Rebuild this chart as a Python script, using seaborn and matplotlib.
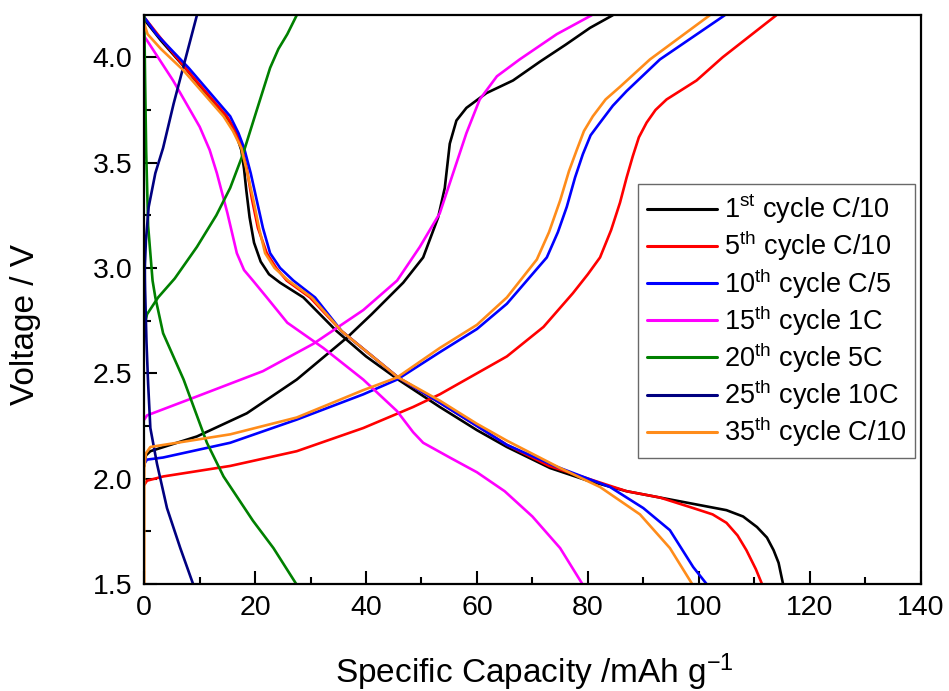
import numpy as np
import pandas as pd
import matplotlib
matplotlib.use("Agg")
import matplotlib.pyplot as plt
import seaborn as sns
from matplotlib.ticker import MultipleLocator

# ---------------- data (capacity mAh/g, voltage V) ----------------
series_names = ["1$^{st}$ cycle C/10", "5$^{th}$ cycle C/10", "10$^{th}$ cycle C/5",
                "15$^{th}$ cycle 1C", "20$^{th}$ cycle 5C", "25$^{th}$ cycle 10C",
                "35$^{th}$ cycle C/10"]
colors = ["#000000", "#FF0000", "#0000FF", "#FF00FF", "#008000", "#000080", "#FF8C1A"]

# 1st cycle C/10
c1_dis_q = [0, 3, 7.7, 12, 15, 16.5, 17.5, 18.0, 18.4, 19.0, 19.8, 21, 22.5, 24.5, 28.7, 34.7, 40, 45.8, 53.3, 60, 65.4, 73.2, 80, 87, 93, 99, 105, 108, 110.5, 112.3, 113.5, 114.4, 115.2]
c1_dis_v = [4.18, 4.08, 3.94, 3.80, 3.71, 3.64, 3.56, 3.47, 3.37, 3.24, 3.12, 3.03, 2.97, 2.93, 2.86, 2.70, 2.58, 2.47, 2.34, 2.23, 2.15, 2.05, 1.99, 1.94, 1.91, 1.88, 1.85, 1.82, 1.77, 1.72, 1.66, 1.60, 1.50]
c1_chg_q = [0, 0.3, 1.1, 9.5, 18.5, 27.5, 36.6, 41, 46.7, 50.3, 53, 54.2, 55.1, 56.3, 58.1, 61.7, 66.5, 71.4, 76, 80.4, 84.5]
c1_chg_v = [2.06, 2.11, 2.13, 2.20, 2.31, 2.47, 2.67, 2.78, 2.93, 3.05, 3.24, 3.38, 3.59, 3.70, 3.76, 3.83, 3.89, 3.98, 4.06, 4.14, 4.20]

# 5th cycle C/10
c5_dis_q = [0, 3, 7.7, 14.9, 16.5, 17.6, 18.5, 19.4, 20.5, 22.1, 23.8, 25.7, 29.9, 35.6, 45.8, 53.3, 60, 65.4, 73, 80, 87, 93, 99, 102.5, 105, 107, 108.6, 110.3, 111.4]
c5_dis_v = [4.19, 4.09, 3.94, 3.72, 3.65, 3.57, 3.47, 3.33, 3.19, 3.07, 3.00, 2.94, 2.86, 2.70, 2.48, 2.36, 2.25, 2.16, 2.06, 2.00, 1.94, 1.91, 1.86, 1.83, 1.79, 1.73, 1.66, 1.57, 1.50]
c5_chg_q = [0, 0.5, 3.4, 15.5, 27.5, 39.5, 48.5, 53.3, 65.4, 72, 77.3, 80, 82.2, 84.2, 85.8, 87, 88.1, 89.2, 90.6, 92.2, 94.2, 99.6, 104.3, 114]
c5_chg_v = [1.97, 1.99, 2.01, 2.06, 2.13, 2.24, 2.34, 2.40, 2.58, 2.72, 2.88, 2.97, 3.05, 3.18, 3.31, 3.43, 3.53, 3.62, 3.69, 3.75, 3.80, 3.89, 4.00, 4.20]

# 10th cycle C/5
c10_dis_q = [0, 2.2, 8, 15.5, 17, 18, 19.2, 20.3, 21.4, 22.7, 24.5, 26.9, 30.8, 35.6, 45.8, 53.3, 60, 65.4, 74, 84, 90, 94.8, 99, 101.4]
c10_dis_v = [4.19, 4.11, 3.95, 3.72, 3.64, 3.57, 3.45, 3.32, 3.19, 3.07, 3.00, 2.94, 2.86, 2.70, 2.48, 2.36, 2.25, 2.16, 2.06, 1.96, 1.86, 1.755, 1.58, 1.50]
c10_chg_q = [0, 0.5, 3.4, 15.5, 27.5, 39.5, 45.6, 53.3, 60, 65.4, 72.6, 74.6, 76.2, 77.7, 79.1, 80.5, 82.2, 84.5, 87, 93, 104.7]
c10_chg_v = [2.07, 2.09, 2.10, 2.17, 2.28, 2.40, 2.47, 2.60, 2.71, 2.83, 3.05, 3.17, 3.29, 3.43, 3.54, 3.63, 3.69, 3.77, 3.84, 3.99, 4.20]

# 15th cycle 1C
c15_dis_q = [0, 1, 5.2, 10, 11.8, 13.1, 14.1, 15, 16.7, 18, 19.6, 22.1, 25.8, 32.3, 39.5, 45.6, 48.5, 50.3, 55.1, 60, 65, 70, 75, 79]
c15_dis_v = [4.10, 4.06, 3.89, 3.67, 3.56, 3.45, 3.35, 3.26, 3.07, 2.99, 2.94, 2.86, 2.74, 2.62, 2.47, 2.32, 2.22, 2.17, 2.10, 2.03, 1.94, 1.82, 1.67, 1.50]
c15_chg_q = [0, 0.5, 9.5, 21.4, 30.5, 39.5, 45.6, 49.7, 53.3, 55.7, 58.1, 60.5, 63.6, 67.7, 74.4, 80.7]
c15_chg_v = [2.28, 2.30, 2.39, 2.51, 2.64, 2.80, 2.94, 3.10, 3.26, 3.45, 3.64, 3.80, 3.91, 3.99, 4.11, 4.20]

# 20th cycle 5C
c20_dis_q = [0, 0.15, 0.35, 0.7, 1.5, 2, 3.4, 7.1, 11.3, 14.3, 19.6, 23.3, 27.4]
c20_dis_v = [4.20, 3.90, 3.55, 3.20, 2.94, 2.86, 2.69, 2.47, 2.17, 2.01, 1.80, 1.67, 1.50]
c20_chg_q = [0, 0.5, 2.5, 5.5, 9.5, 13, 15.5, 17.8, 20.3, 22.7, 24.2, 25.8, 27.5]
c20_chg_v = [2.72, 2.78, 2.86, 2.95, 3.10, 3.25, 3.38, 3.54, 3.75, 3.95, 4.04, 4.11, 4.20]

# 25th cycle 10C
c25_dis_q = [0, 0.15, 0.4, 0.7, 1.1, 2.3, 4.1, 6.5, 8.8]
c25_dis_v = [3.15, 2.90, 2.65, 2.45, 2.24, 2.07, 1.86, 1.67, 1.50]
c25_chg_q = [0, 0.1, 0.3, 0.8, 2, 3.4, 5.3, 7, 8.3, 9.5]
c25_chg_v = [2.75, 3.00, 3.13, 3.29, 3.45, 3.57, 3.78, 3.95, 4.08, 4.20]

# 35th cycle C/10
c35_dis_q = [0, 0.6, 3, 7, 14.3, 16, 17.5, 18.6, 19.7, 20.7, 21.8, 23.5, 26, 30.2, 35.6, 45.8, 53.3, 60, 65.4, 75, 82.2, 89.4, 94.8, 98.8]
c35_dis_v = [4.16, 4.11, 4.04, 3.94, 3.72, 3.65, 3.57, 3.45, 3.32, 3.19, 3.07, 3.00, 2.94, 2.86, 2.70, 2.48, 2.37, 2.26, 2.18, 2.05, 1.96, 1.83, 1.67, 1.50]
c35_chg_q = [0, 0, 0.3, 1.1, 15.5, 27.5, 39.5, 45.6, 53.3, 60, 65.4, 70.8, 73.0, 75, 76.6, 78, 79.3, 80.9, 83.2, 85.8, 91.2, 102]
c35_chg_v = [1.50, 2.05, 2.12, 2.15, 2.21, 2.29, 2.42, 2.48, 2.62, 2.73, 2.86, 3.04, 3.17, 3.32, 3.46, 3.56, 3.65, 3.72, 3.80, 3.86, 3.99, 4.20]

curves = [
    (c1_dis_q, c1_dis_v, c1_chg_q, c1_chg_v),
    (c5_dis_q, c5_dis_v, c5_chg_q, c5_chg_v),
    (c10_dis_q, c10_dis_v, c10_chg_q, c10_chg_v),
    (c15_dis_q, c15_dis_v, c15_chg_q, c15_chg_v),
    (c20_dis_q, c20_dis_v, c20_chg_q, c20_chg_v),
    (c25_dis_q, c25_dis_v, c25_chg_q, c25_chg_v),
    (c35_dis_q, c35_dis_v, c35_chg_q, c35_chg_v),
]

rows = []
for name, (dq, dv, cq, cv) in zip(series_names, curves):
    for q, v in zip(dq, dv):
        rows.append((name, "discharge", q, v))
    for q, v in zip(cq, cv):
        rows.append((name, "charge", q, v))
df = pd.DataFrame(rows, columns=["series", "branch", "capacity", "voltage"])
df["unit"] = df["series"] + "_" + df["branch"]

# ---------------- plotting ----------------
sns.set_theme(style="white")
plt.rcParams["font.family"] = ["Liberation Sans", "DejaVu Sans"]
plt.rcParams["mathtext.default"] = "regular"
plt.rcParams["text.color"] = "black"
plt.rcParams["axes.labelcolor"] = "black"

fig = plt.figure(figsize=(9.49, 6.91), dpi=100)
ax = fig.add_axes([0.152, 0.155, 0.818, 0.823])

sns.lineplot(data=df, x="capacity", y="voltage", hue="series", units="unit",
             estimator=None, sort=False, palette=colors, hue_order=series_names,
             linewidth=1.9, ax=ax)

ax.set_xlim(0, 140)
ax.set_ylim(1.5, 4.2)
ax.xaxis.set_major_locator(MultipleLocator(20))
ax.xaxis.set_minor_locator(MultipleLocator(10))
ax.yaxis.set_major_locator(MultipleLocator(0.5))
ax.yaxis.set_minor_locator(MultipleLocator(0.25))
ax.tick_params(axis="both", which="major", direction="in", length=9.5, width=1.5,
               labelsize=20.5, colors="black", bottom=True, left=True,
               top=False, right=False)
ax.tick_params(axis="x", which="major", pad=8)
ax.tick_params(axis="y", which="major", pad=8.5)
ax.tick_params(axis="both", which="minor", direction="in", length=5, width=1.5,
               color="black", bottom=True, left=True, top=False, right=False)
for s in ax.spines.values():
    s.set_color("black")
    s.set_linewidth(1.6)

ax.set_xlabel("Specific Capacity /mAh g$^{-1}$", fontsize=24, color="black")
ax.xaxis.label.set_va("baseline")
ax.xaxis.set_label_coords(0.503, -0.174)
ax.set_ylabel("Voltage / V", fontsize=24, color="black")
ax.yaxis.set_label_coords(-0.133, 0.457)

leg = ax.legend(loc="upper left", bbox_to_anchor=(0.636, 0.703), borderaxespad=0,
                fontsize=19.5, handlelength=2.6, handletextpad=0.25, labelspacing=0.1,
                borderpad=0.33, fancybox=False, frameon=True)
leg.get_frame().set_edgecolor("#444444")
leg.get_frame().set_linewidth(1.0)
for line in leg.get_lines():
    line.set_linewidth(2.2)
for t in leg.get_texts():
    t.set_color("black")

fig.savefig("out.png", dpi=100)
